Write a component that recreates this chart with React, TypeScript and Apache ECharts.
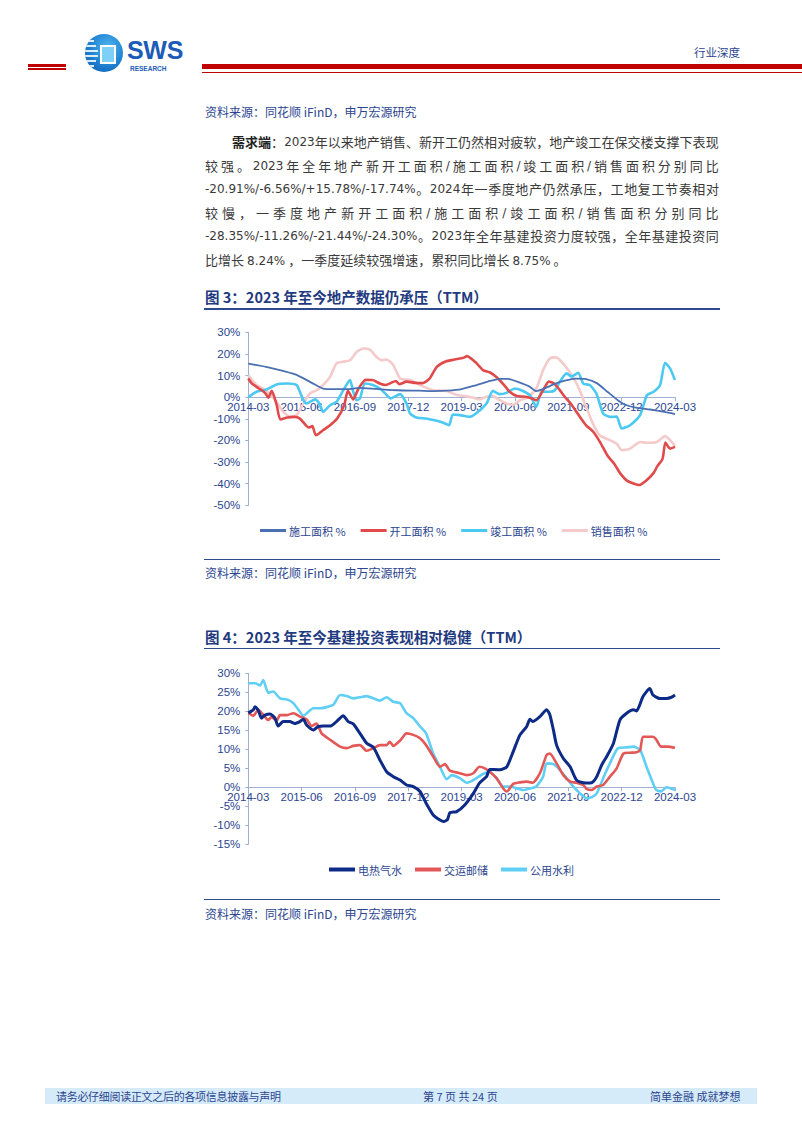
import React, { useEffect, useRef } from 'react';
import * as echarts from 'echarts';

// ---------- data ----------
const xTickLabels = ['2014-03', '2015-06', '2016-09', '2017-12', '2019-03', '2020-06', '2021-09', '2022-12', '2024-03'];

const fig3Names = ['施工面积 %', '开工面积 %', '竣工面积 %', '销售面积 %'];
// [month index from 2014-03, value %]
const fig3Construction = [[0,15.5],[5,14],[10,12],[14,10],[18,6.5],[21,4],[24,3.7],[28,3.7],[31,4.3],[36,3.8],[42,3.2],[48,3],[52,2.8],[56,3],[60,3.7],[64,5.5],[68,7.5],[71,8.5],[73,8.5],[76,7],[79,5],[81,2.8],[83,3.8],[86,6],[89,7.6],[92,8.6],[95,8.4],[98,6.5],[101,2.5],[104,-1.5],[106,-3.5],[109,-4.8],[113,-5.7],[117,-6.8],[120,-7.8]];
const fig3NewStarts = [[0,8.6],[1,6.3],[3,4],[4,3],[5,1.4],[5.6,-0.3],[6.6,2.9],[8,-3.7],[9,-10.3],[11,-9.4],[13,-9.1],[14.5,-9.9],[17,-14],[18,-13.4],[19,-17.6],[21,-15.3],[23,-13],[25,-9.9],[27,-3.5],[28,3],[29.5,-1],[31,4],[33,8],[35,7.9],[37,6.3],[38.5,5.6],[40,6.5],[41.5,7.5],[42.5,6],[44.5,7.2],[47,6.6],[49,6.5],[51,8.6],[53,14],[55.5,16.5],[58,17.4],[60.5,18.2],[61.5,19],[64,16],[66,12.5],[68,11.4],[70,9],[72,5.5],[73.5,2.5],[75.5,0.5],[78,0.2],[80,-0.8],[81,-1.4],[83,3.5],[84.5,7.2],[86,6.3],[87.5,3.5],[89,0.2],[90.5,-2.6],[93,-8.5],[95,-13],[97,-16],[99,-21],[101,-27],[103,-31],[104.5,-35],[106.5,-38.6],[108.5,-40],[110,-40.6],[112,-38.4],[114,-35],[115,-32],[116.5,-28.5],[117.3,-21],[118.6,-23.8],[120,-23]];
const fig3Completed = [[0,0],[2.3,2.5],[5,3.5],[8,5.9],[11,6.3],[13.6,5.6],[14.5,2.5],[15.5,-1.4],[16.4,-2.9],[17.3,-2.2],[18.8,-1],[20,-2.9],[21,-6.8],[23,-3.7],[24.8,-2.2],[26.7,3.2],[28.6,7.9],[29.5,2.5],[30.5,-1.4],[31.4,-0.6],[32.8,6.3],[35,5.6],[37,4],[39,0.9],[40,-0.6],[42.7,1.4],[44.5,-2.9],[45.5,-7.6],[47.3,-9.4],[50,-9.9],[52,-10.6],[54,-11.4],[55.8,-12.5],[56.5,-13],[57.5,-8],[59.5,-8.3],[62.3,-9.1],[64,-7.6],[67,-2.9],[68.8,2.9],[70.7,1.4],[72.6,2],[75,4],[76.8,3.2],[79.2,0.9],[81,-4.5],[82.5,2.5],[84.8,2.5],[86.2,3.2],[87.6,7.1],[89.5,11],[90.9,9.5],[92.8,11.3],[94.2,6.3],[96,5.6],[97.9,1.7],[99.8,-7.6],[101.7,-9.1],[103.6,-9],[105,-14.5],[107.4,-13],[110.2,-8.3],[112.1,0.9],[114,2.5],[115.8,5.6],[117.2,15.9],[118.6,13.3],[120,7.9]];
const fig3Sales = [[0,10.2],[2.3,5.6],[5,3.2],[8,-2.2],[9.8,-6.8],[11.7,-8.8],[13.6,-8.3],[15.5,-2.9],[17.3,1.7],[19.2,3.2],[21,5.6],[23,9.4],[24.8,15.6],[26.7,16.4],[28.6,17.1],[30.5,21],[32.3,22.5],[34.2,22],[36,18.7],[37.5,17.1],[38.9,17.4],[40.8,14.8],[42.7,8.6],[45.5,7.9],[48.3,5.6],[52,3.2],[55.8,2.9],[58.6,1],[61,0.5],[63.2,-0.2],[65,-1],[67,0.2],[68.8,0.5],[70.7,-1.4],[72.6,-2.9],[74.5,-3.5],[76.4,-1.4],[78.3,-0.2],[81,4],[82.9,12.5],[84.8,17.9],[86.6,18.4],[88.5,15.6],[91.3,9.4],[93.2,3.2],[95,-4.5],[96.9,-12.2],[98.8,-17.6],[101.7,-19.9],[103.6,-21.5],[105,-24.5],[107.4,-23.8],[110.2,-20.7],[112.1,-21.1],[114.9,-20.7],[117.2,-18],[119.5,-21.5],[120,-23]];

const fig4Names = ['电热气水', '交运邮储', '公用水利'];
const fig4Utilities = [[0,19.6],[1.4,20.4],[1.9,21.2],[2.8,20.3],[3.7,18.2],[4.7,19],[6.1,19.3],[7.5,18.2],[8.4,16.1],[9.8,17.3],[11.7,17.3],[13.1,16.8],[14.5,17.3],[15.5,17.9],[16.4,16.4],[18.3,15.1],[19.7,16],[21,16.1],[23,16.1],[24.8,17.3],[26.7,18.8],[28.1,17.3],[29.5,16.7],[31.4,14.2],[33.3,11.6],[35.2,10.5],[37,7.2],[38.9,4.1],[40.8,2.8],[42.7,1.9],[44.5,0.6],[46.4,0.2],[48.3,-1.1],[50,-4.2],[52,-7.3],[53.9,-8.6],[55,-9],[56,-8.5],[56.7,-6.7],[58.6,-6.4],[61,-4.5],[63.3,-1.6],[65,1.1],[67,2.8],[67.9,4.7],[70.8,4.6],[72.7,5.4],[74.5,9.4],[76.4,13.8],[78.3,16],[79.2,17.9],[80,17.3],[82,18.6],[83.9,20.4],[84.8,19.1],[85.8,15.1],[86.7,11.1],[88.6,7.6],[90.5,5.4],[92.3,1.9],[94.2,1.2],[96.1,1.1],[97,1.5],[98,2.8],[99.4,5.9],[100.8,8.1],[102.7,11.6],[104.5,17.7],[106.4,19.5],[108.3,20.4],[109.2,20.1],[111,23.9],[112.9,26],[113.8,24.3],[115.7,23.4],[117.6,23.4],[119,23.7],[120,24.3]];
const fig4Transport = [[0,19.6],[1.4,18.8],[2.8,20.4],[4.2,19.1],[5.6,17.7],[6.5,18.5],[8,17.5],[8.9,19],[10.8,19],[12.7,19.5],[14.5,18.6],[16.4,17.9],[17.8,16.1],[19.2,16.8],[20.6,14.2],[23,12.5],[25.8,10.7],[27.7,10.3],[29.5,10.9],[31.4,11.1],[33.3,9.6],[35.2,10.3],[37,11.1],[38.9,11.1],[39.8,12],[40.8,10.9],[42.7,12.3],[44.5,14.2],[46.4,13.8],[48.3,12.9],[50,11.1],[52,8.1],[53.9,5.4],[55.3,6.1],[56.7,4.4],[59.5,3.7],[61.4,3.2],[63.3,3.7],[65,5.4],[66.5,5],[67.9,4.1],[69.8,2.4],[71.7,-0.3],[72.7,-1.1],[74.5,0.9],[76.4,1.3],[78.3,1.5],[80,1.2],[82,3.7],[83.9,8.5],[84.8,8.9],[86.7,6.3],[88.6,3.2],[90.5,1.5],[92.3,1.2],[94.2,0.6],[95.2,-0.5],[96.6,-0.7],[98,0.2],[99.8,0.6],[101.7,2.8],[103.6,5],[105.5,8.9],[107.3,9.1],[109.2,9.2],[110.2,9.8],[111,13.3],[113.8,13.3],[114.7,12.6],[116.1,10.7],[118,10.7],[120,10.4]];
const fig4Water = [[0,27.4],[1.9,27.4],[3.3,26.8],[4.2,28.2],[5.6,24.9],[7,25.2],[8.9,23.4],[11.2,23],[12.7,22.1],[14.1,20.4],[15.5,18.8],[16.9,19.9],[18.3,20.8],[20.2,20.8],[22,21.1],[23.9,21.7],[25.8,24.3],[27.7,24],[29.5,23.4],[31.4,23.7],[33.3,24],[35.2,23.4],[37,22.8],[38.9,23.7],[40.8,22.5],[42.7,22.1],[44.5,19.5],[46.4,18.2],[48.3,16],[50,14.2],[52,8.9],[53.9,5.4],[55.8,2.1],[57.2,3.2],[59.5,2.4],[61.4,1.2],[63.3,1.9],[66,3.5],[67.9,4.1],[69.8,2.4],[71.7,0.2],[73.6,0.2],[75.5,-0.3],[77.3,-0.7],[79.2,-0.3],[81,0.2],[82.9,2.8],[83.9,6.3],[85.8,6.1],[87.6,4.6],[89.5,2.4],[91.4,0.2],[93.3,-1.6],[95.2,-2.9],[96.6,-2.6],[98,-1.6],[99.8,2.4],[101.7,6.3],[104,10.3],[106.4,10.5],[108.3,10.7],[110.2,9.8],[112,5.4],[113.8,1.1],[114.7,-0.7],[116.1,-1.1],[117.6,0],[120,-0.7]];

const paragraphLines = [
  '需求端：2023 年以来地产销售、新开工仍然相对疲软，地产竣工在保交楼支撑下表现',
  '较强。2023 年全年地产新开工面积/施工面积/竣工面积/销售面积分别同比',
  '-20.91%/-6.56%/+15.78%/-17.74%。2024 年一季度地产仍然承压，工地复工节奏相对',
  '较慢，一季度地产新开工面积/施工面积/竣工面积/销售面积分别同比',
  '-28.35%/-11.26%/-21.44%/-24.30%。2023 年全年基建投资力度较强，全年基建投资同',
  '比增长 8.24%，一季度延续较强增速，累积同比增长 8.75%。',
];

// ---------- styles ----------
const CJK = '"Noto Sans CJK SC", "Noto Sans", sans-serif';
const LATIN = '"Liberation Sans", Arial, sans-serif';
const VERD = '"DejaVu Sans", "Noto Sans CJK SC", sans-serif';
const BLUE_TEXT = '#2b4590';
const AXIS = '#9fb0d2';

function makeOption(cfg: any) {
  const h = cfg.grid.height;
  // the x axis sits on the 0% line: move it up from the grid's bottom by the 0 position
  const zeroOffset = -h * (0 - cfg.yMin) / (cfg.yMax - cfg.yMin);
  return {
    animation: false,
    grid: cfg.grid,
    legend: {
      data: cfg.names,
      left: cfg.legendLeft,
      top: cfg.legendTop,
      icon: 'rect',
      itemWidth: 26,
      itemHeight: cfg.legendItemHeight,
      itemGap: cfg.legendGap,
      textStyle: { color: BLUE_TEXT, fontSize: 11, fontFamily: CJK, padding: [0, 0, 0, -2] },
    },
    xAxis: {
      type: 'value',
      min: 0,
      max: 120,
      interval: 15,
      position: 'bottom',
      offset: zeroOffset,
      axisLine: { show: true, onZero: false, lineStyle: { color: AXIS, width: 1 } },
      axisTick: { show: true, length: 4, lineStyle: { color: AXIS } },
      axisLabel: {
        formatter: (v: number) => xTickLabels[Math.round(v / 15)] || '',
        color: BLUE_TEXT,
        fontSize: 11.5,
        fontFamily: LATIN,
        margin: 4,
      },
      splitLine: { show: false },
      z: 1,
    },
    yAxis: {
      type: 'value',
      min: cfg.yMin,
      max: cfg.yMax,
      interval: cfg.yInterval,
      axisLine: { show: true, onZero: false, lineStyle: { color: AXIS, width: 1 } },
      axisTick: { show: true, length: 3, lineStyle: { color: AXIS } },
      axisLabel: { formatter: '{value}%', color: BLUE_TEXT, fontSize: 11.5, fontFamily: LATIN, margin: 8 },
      splitLine: { show: false },
    },
    series: cfg.names.map((n: string, i: number) => ({
      type: 'line',
      name: n,
      data: cfg.data[i],
      symbol: 'none',
      showSymbol: false,
      smooth: 0.2,
      lineStyle: { width: cfg.widths[i], color: cfg.colors[i] },
      itemStyle: { color: cfg.colors[i] },
      z: cfg.z ? cfg.z[i] : 2,
    })),
  };
}

const fig3Option = makeOption({
  names: fig3Names,
  data: [fig3Construction, fig3NewStarts, fig3Completed, fig3Sales],
  colors: ['#4a70b2', '#e04a4a', '#4cc9f3', '#f5caca'],
  widths: [1.8, 2.6, 2.6, 2.6],
  z: [5, 4, 3, 2],
  yMin: -50, yMax: 30, yInterval: 10,
  grid: { left: 48.3, top: 12.3, width: 426.7, height: 173 },
  legendLeft: 55, legendTop: 200, legendItemHeight: 3, legendGap: 15,
});

const fig4Option = makeOption({
  names: fig4Names,
  data: [fig4Utilities, fig4Transport, fig4Water],
  colors: ['#0c2a86', '#e35757', '#60cff6'],
  widths: [3, 2.6, 2.6],
  z: [5, 4, 3],
  yMin: -15, yMax: 30, yInterval: 5,
  grid: { left: 48.3, top: 13.3, width: 426.7, height: 171 },
  legendLeft: 124, legendTop: 199, legendItemHeight: 4, legendGap: 13,
});

function EChart({ option, style }: { option: any; style: React.CSSProperties }) {
  const ref = useRef<HTMLDivElement>(null);
  useEffect(() => {
    const chart = echarts.init(ref.current!, null, { renderer: 'svg' });
    chart.setOption(option);
    return () => chart.dispose();
  }, [option]);
  return <div ref={ref} style={style} />;
}

function tokenize(text: string) {
  const tokens: { t: string; latin: boolean }[] = [];
  let run = '';
  const flush = () => {
    if (run) tokens.push({ t: run, latin: true });
    run = '';
  };
  for (const ch of Array.from(text)) {
    if (ch === ' ') {
      flush();
    } else if (ch.charCodeAt(0) < 128) {
      run += ch;
    } else {
      flush();
      tokens.push({ t: ch, latin: false });
    }
  }
  flush();
  return tokens;
}

const TEXT_COLOR = '#3a3a3a';

function JustLine({ text, left, right, centerY, bold = 0, justify = true }: any) {
  const tokens = tokenize(text);
  const style: React.CSSProperties = {
    position: 'absolute',
    left,
    top: centerY - 10,
    height: 20,
    lineHeight: '20px',
    fontFamily: CJK,
    fontSize: 13,
    color: TEXT_COLOR,
    whiteSpace: 'nowrap',
  };
  if (justify) {
    style.width = right - left;
    style.display = 'flex';
    style.justifyContent = 'space-between';
  }
  return (
    <div style={style}>
      {tokens.map((tk, i) => (
        <span
          key={i}
          style={{
            fontWeight: i < bold ? 700 : 400,
            color: i < bold ? '#222' : undefined,
            fontFamily: tk.latin ? VERD : CJK,
            fontSize: tk.latin ? 12 : 13,
            marginLeft: !justify && i > 0 && tk.latin !== tokens[i - 1].latin ? 3 : 0,
          }}
        >
          {tk.t}
        </span>
      ))}
    </div>
  );
}

function Txt({ x, y, size, children, color = BLUE_TEXT, bold = false, family = CJK, spacing = 0 }: any) {
  return (
    <div
      style={{
        position: 'absolute',
        left: x,
        top: y - size * 0.75,
        lineHeight: `${size * 1.5}px`,
        fontSize: size,
        fontFamily: family,
        fontWeight: bold ? 700 : 400,
        color,
        whiteSpace: 'nowrap',
        letterSpacing: spacing,
      }}
    >
      {children}
    </div>
  );
}

function Rule({ x1, x2, y, h, color }: any) {
  return <div style={{ position: 'absolute', left: x1, width: x2 - x1, top: y, height: h, background: color }} />;
}

function Logo() {
  const stripes = [40, 45, 50, 55, 60, 65];
  return (
    <div style={{ position: 'absolute', left: 0, top: 0 }}>
      <div
        style={{
          position: 'absolute', left: 85, top: 34, width: 38, height: 38, borderRadius: '50%',
          background: 'radial-gradient(circle at 60% 35%, #4fb6ee 0%, #1d7fd0 55%, #0d58a8 100%)',
          overflow: 'hidden',
        }}
      >
        {stripes.map((s, i) => (
          <div key={i} style={{ position: 'absolute', left: 0, top: s - 34, width: 14 - Math.abs(i - 2.5) * 2, height: 2, background: 'rgba(255,255,255,0.85)' }} />
        ))}
        <div style={{ position: 'absolute', left: 15, top: 11, width: 12, height: 15, border: '2px solid #fff', background: '#7fd0f7' }} />
      </div>
      <div style={{ position: 'absolute', left: 127, top: 39, fontFamily: LATIN, fontWeight: 700, fontSize: 25, lineHeight: '22px', color: '#1c5cb6', letterSpacing: -0.3 }}>SWS</div>
      <div style={{ position: 'absolute', left: 130, top: 65, fontFamily: LATIN, fontWeight: 700, fontSize: 6.5, lineHeight: '7px', color: '#1c5cb6' }}>RESEARCH</div>
    </div>
  );
}

export default function App() {
  const red = '#c00000';
  const lineBlue = '#2f4a8a';
  return (
    <div style={{ position: 'absolute', left: 0, top: 0, width: 802, height: 1133, background: '#fff', overflow: 'hidden' }}>
      {/* header */}
      <Logo />
      <Txt x={694} y={52.5} size={11.5} color={BLUE_TEXT}>行业深度</Txt>
      <Rule x1={28} x2={66} y={63.5} h={3} color={red} />
      <Rule x1={28} x2={66} y={68} h={1.5} color={red} />
      <Rule x1={202} x2={802} y={63.5} h={5.5} color={red} />
      <Rule x1={202} x2={802} y={71.5} h={1.5} color={red} />

      {/* source above paragraph */}
      <Txt x={205} y={112} size={12}>资料来源：同花顺 iFinD，申万宏源研究</Txt>

      {/* paragraph */}
      <JustLine text={paragraphLines[0]} left={232} right={719} centerY={142} bold={3} />
      <JustLine text={paragraphLines[1]} left={205} right={719} centerY={165.5} />
      <JustLine text={paragraphLines[2]} left={205} right={719} centerY={189} />
      <JustLine text={paragraphLines[3]} left={205} right={719} centerY={212.5} />
      <JustLine text={paragraphLines[4]} left={205} right={719} centerY={236} />
      <JustLine text={paragraphLines[5]} left={205} right={719} centerY={259.5} justify={false} />

      {/* figure 3 */}
      <Txt x={205} y={297} size={14.5} bold color="#1f3a80">图 3：2023 年至今地产数据仍承压（TTM）</Txt>
      <Rule x1={204} x2={720} y={308} h={1.5} color={lineBlue} />
      <EChart option={fig3Option} style={{ position: 'absolute', left: 200, top: 320, width: 520, height: 230 }} />
      <Rule x1={204} x2={720} y={559} h={1.2} color={lineBlue} />
      <Txt x={205} y={573} size={12}>资料来源：同花顺 iFinD，申万宏源研究</Txt>

      {/* figure 4 */}
      <Txt x={205} y={636.5} size={14.5} bold color="#1f3a80">图 4：2023 年至今基建投资表现相对稳健（TTM）</Txt>
      <Rule x1={204} x2={720} y={647.5} h={1.5} color={lineBlue} />
      <EChart option={fig4Option} style={{ position: 'absolute', left: 200, top: 660, width: 520, height: 225 }} />
      <Rule x1={204} x2={720} y={898.5} h={1.2} color={lineBlue} />
      <Txt x={205} y={913.5} size={12}>资料来源：同花顺 iFinD，申万宏源研究</Txt>

      {/* footer */}
      <Rule x1={45} x2={757} y={1088} h={16} color="#d6ebf9" />
      <Txt x={56} y={1096} size={11} spacing={-0.3}>请务必仔细阅读正文之后的各项信息披露与声明</Txt>
      <Txt x={423} y={1096} size={11}>第 7 页 共 24 页</Txt>
      <Txt x={650} y={1096} size={11}>简单金融 成就梦想</Txt>
    </div>
  );
}
